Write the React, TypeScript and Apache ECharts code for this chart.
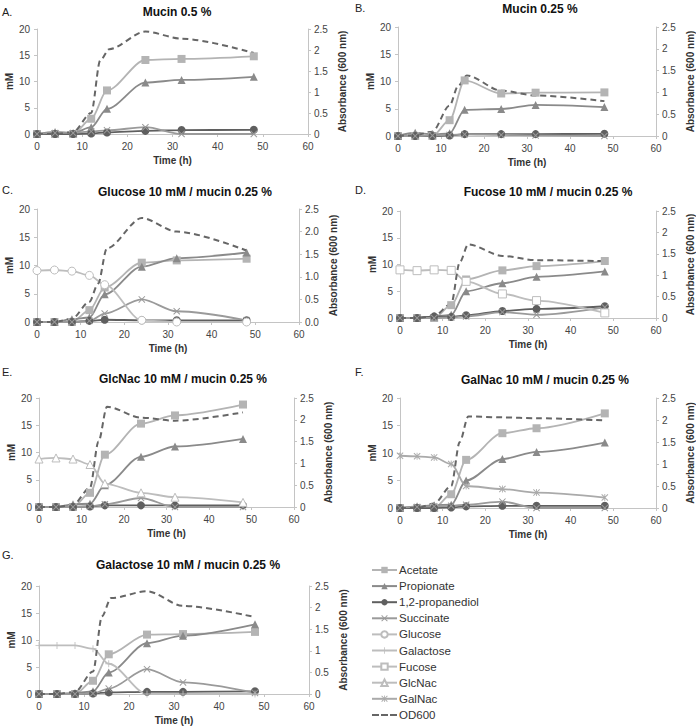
import React, { useEffect, useRef } from "react";
import * as echarts from "echarts";

// ---- data ----
const times = [0, 4, 8, 12, 15.5, 24, 32, 48];
const odTimes = [0, 4, 8, 12, 14, 16, 24, 32, 48];

const panelLetters = ["A.", "B.", "C.", "D.", "E.", "F.", "G."];
const panelTitles = [
  "Mucin 0.5 %",
  "Mucin 0.25 %",
  "Glucose 10 mM / mucin 0.25 %",
  "Fucose 10 mM / mucin 0.25 %",
  "GlcNac 10 mM / mucin 0.25 %",
  "GalNac 10 mM / mucin 0.25 %",
  "Galactose 10 mM / mucin 0.25 %",
];

const acetateA = [0, 0, 0, 2.9, 8.3, 14.1, 14.3, 14.8];
const propionateA = [0, 0.4, 0.2, 1.3, 4.8, 9.8, 10.3, 10.9];
const propanediolA = [0, 0, 0, 0.1, 0.3, 0.6, 0.75, 0.8];
const succinateA = [0, 0.2, 0.2, 0.5, 0.7, 1.3, 0, 0];
const odA = [0, 0, 0.05, 0.5, 1.75, 2.02, 2.44, 2.27, 1.93];

const acetateB = [0, 0, 0, 2.9, 10.2, 7.8, 7.95, 8.0];
const propionateB = [0, 0.6, 0.3, 0.5, 4.8, 4.95, 5.7, 5.3];
const propanediolB = [0, 0, 0, 0.1, 0.35, 0.35, 0.35, 0.4];
const succinateB = [0, 0, 0.1, 0.2, 0.3, 0.2, 0.1, 0];
const odB = [0, 0.02, 0.1, 0.7, 1.15, 1.39, 1.04, 0.93, 0.8];

const acetateC = [0, 0, 0, 2.1, 6.1, 10.5, 10.9, 11.2];
const propionateC = [0, 0, 0.5, 0.8, 4.9, 9.8, 11.3, 12.3];
const propanediolC = [0, 0, 0, 0.2, 0.4, 0.3, 0.3, 0.3];
const succinateC = [0, 0, 0, 0.2, 1.5, 4.0, 1.9, 0.3];
const glucoseC = [9.1, 9.2, 9.0, 8.25, 6.6, 0.3, 0, 0];
const odC = [0, 0, 0.07, 0.45, 0.85, 1.63, 2.3, 2.0, 1.58];

const acetateD = [0, 0, 0, 2.4, 7.2, 8.9, 9.7, 10.65];
const propionateD = [0, 0, 0.3, 0.6, 5.0, 6.5, 7.7, 8.7];
const propanediolD = [0, 0, 0.3, 0.2, 0.5, 1.3, 1.7, 2.2];
const succinateD = [0, 0, 0, 0.1, 0.3, 1.1, 0.6, 2.0];
const fucoseD = [9.0, 8.85, 9.0, 8.9, 6.85, 4.5, 3.25, 0.95];
const odD = [0, 0, 0.05, 0.33, 1.3, 1.72, 1.45, 1.35, 1.33];

const acetateE = [0, 0, 0, 2.6, 9.6, 15.3, 16.8, 18.8];
const propionateE = [0, 0, 0.5, 0.6, 4.0, 9.2, 11.1, 12.5];
const propanediolE = [0, 0, 0, 0.1, 0.3, 0.3, 0.3, 0.3];
const succinateE = [0, 0, 0, 0.1, 0.5, 1.65, 0, 0];
const glcnacE = [8.8, 9.0, 8.8, 7.8, 4.3, 2.6, 1.8, 0.85];
const odE = [0, 0, 0.05, 0.44, 1.5, 2.3, 2.05, 1.98, 2.17];

const acetateF = [0, 0, 0, 2.5, 8.75, 13.6, 14.5, 17.2];
const propionateF = [0, 0.3, 0.5, 0.6, 5.0, 8.9, 10.2, 11.9];
const propanediolF = [0, 0, 0, 0.1, 0.3, 0.4, 0.4, 0.4];
const succinateF = [0, 0.2, 0.3, 0.4, 0.6, 1.15, 0, 0];
const galnacF = [9.5, 9.4, 9.2, 8.0, 4.0, 3.45, 2.8, 1.9];
const odF = [0, 0, 0.1, 0.5, 1.5, 2.08, 2.06, 2.04, 1.99];

const acetateG = [0, 0, 0, 2.45, 7.35, 11.0, 11.1, 11.5];
const propionateG = [0, 0, 0.2, 0.5, 4.0, 9.4, 10.8, 12.9];
const propanediolG = [0, 0, 0, 0.1, 0.3, 0.4, 0.4, 0.5];
const succinateG = [0, 0, 0, 0.1, 1.0, 4.6, 2.15, 0.2];
const galactoseG = [9.0, 9.0, 9.0, 8.4, 5.6, 0, 0, 0];
const odG = [0, 0, 0.05, 0.52, 1.8, 2.22, 2.38, 2.04, 1.78];

const legendNames = [
  "Acetate",
  "Propionate",
  "1,2-propanediol",
  "Succinate",
  "Glucose",
  "Galactose",
  "Fucose",
  "GlcNac",
  "GalNac",
  "OD600",
];

// ---- styles ----
const FONT = "'Liberation Sans', Arial, sans-serif";
const X_PATH = "path://M1,0L5,4L9,0L10,1L6,5L10,9L9,10L5,6L1,10L0,9L4,5L0,1Z";
const PLUS_PATH = "path://M4.4,0H5.6V4.4H10V5.6H5.6V10H4.4V5.6H0V4.4H4.4Z";
const STAR_PATH =
  "path://M1,0L5,4L9,0L10,1L6,5L10,9L9,10L5,6L1,10L0,9L4,5L0,1Z M4.4,0H5.6V10H4.4Z";
const DASH_ICON = "path://M0,0H7V2H0Z M9,0H16V2H9Z M18,0H25V2H18Z";

const styles: Record<string, any> = {
  Acetate: { color: "#b4b4b4", symbol: "rect", size: 8, fill: "#b4b4b4" },
  Propionate: { color: "#8a8a8a", symbol: "triangle", size: 8, fill: "#8a8a8a" },
  "1,2-propanediol": { color: "#5f5f5f", symbol: "circle", size: 8, fill: "#5f5f5f" },
  Succinate: { color: "#9a9a9a", symbol: X_PATH, size: 7, fill: "#9a9a9a" },
  Glucose: { color: "#bdbdbd", symbol: "circle", size: 8, fill: "#ffffff" },
  Galactose: { color: "#bdbdbd", symbol: PLUS_PATH, size: 7, fill: "#bdbdbd" },
  Fucose: { color: "#bdbdbd", symbol: "rect", size: 8, fill: "#ffffff" },
  GlcNac: { color: "#bdbdbd", symbol: "triangle", size: 8, fill: "#ffffff" },
  GalNac: { color: "#aaaaaa", symbol: STAR_PATH, size: 7, fill: "#aaaaaa" },
};

type Panel = {
  grid: { left: number; top: number; width: number; height: number };
  letterPos: [number, number];
  titleX: number;
  titleY: number;
  rightDecimals: boolean;
  series: [string, number[]][];
  od: number[];
};

const panels: Panel[] = [
  {
    grid: { left: 37, top: 29, width: 271, height: 105 },
    letterPos: [2, 6], titleX: 177, titleY: 6, rightDecimals: false,
    series: [["Acetate", acetateA], ["Propionate", propionateA], ["1,2-propanediol", propanediolA], ["Succinate", succinateA]],
    od: odA,
  },
  {
    grid: { left: 398, top: 27, width: 259, height: 109 },
    letterPos: [355, 2], titleX: 540, titleY: 3, rightDecimals: false,
    series: [["Acetate", acetateB], ["Propionate", propionateB], ["1,2-propanediol", propanediolB], ["Succinate", succinateB]],
    od: odB,
  },
  {
    grid: { left: 37, top: 209, width: 262, height: 113 },
    letterPos: [2, 184], titleX: 185, titleY: 186, rightDecimals: true,
    series: [["Acetate", acetateC], ["Propionate", propionateC], ["1,2-propanediol", propanediolC], ["Succinate", succinateC], ["Glucose", glucoseC]],
    od: odC,
  },
  {
    grid: { left: 400, top: 211, width: 259, height: 107 },
    letterPos: [355, 184], titleX: 548, titleY: 186, rightDecimals: false,
    series: [["Acetate", acetateD], ["Propionate", propionateD], ["1,2-propanediol", propanediolD], ["Succinate", succinateD], ["Fucose", fucoseD]],
    od: odD,
  },
  {
    grid: { left: 39, top: 398, width: 255, height: 109 },
    letterPos: [2, 366], titleX: 183, titleY: 373, rightDecimals: false,
    series: [["Acetate", acetateE], ["Propionate", propionateE], ["1,2-propanediol", propanediolE], ["Succinate", succinateE], ["GlcNac", glcnacE]],
    od: odE,
  },
  {
    grid: { left: 400, top: 398, width: 257, height: 110 },
    letterPos: [355, 366], titleX: 545, titleY: 374, rightDecimals: false,
    series: [["Acetate", acetateF], ["Propionate", propionateF], ["1,2-propanediol", propanediolF], ["Succinate", succinateF], ["GalNac", galnacF]],
    od: odF,
  },
  {
    grid: { left: 39, top: 586, width: 270, height: 108 },
    letterPos: [2, 549], titleX: 188, titleY: 559, rightDecimals: false,
    series: [["Acetate", acetateG], ["Propionate", propionateG], ["1,2-propanediol", propanediolG], ["Succinate", succinateG], ["Galactose", galactoseG]],
    od: odG,
  },
];

function buildOption() {
  const grid: any[] = [];
  const xAxis: any[] = [];
  const yAxis: any[] = [];
  const series: any[] = [];
  const graphic: any[] = [];
  const axisLine = { show: true, lineStyle: { color: "#c4c4c4", width: 1 } };
  const axisTick = { show: true, length: 3, lineStyle: { color: "#c4c4c4" } };
  const label = { fontSize: 10, color: "#444", fontFamily: FONT };
  const nameStyle = { fontSize: 10, fontWeight: "bold", color: "#333", fontFamily: FONT };

  panels.forEach((p, i) => {
    grid.push({ ...p.grid, containLabel: false });
    xAxis.push({
      type: "value", gridIndex: i, min: 0, max: 60, interval: 10,
      name: "Time (h)", nameLocation: "middle", nameGap: 21, nameTextStyle: nameStyle,
      axisLine, axisTick, axisLabel: { ...label, margin: 7 }, splitLine: { show: false },
    });
    yAxis.push({
      type: "value", gridIndex: i, min: 0, max: 20, interval: 5, position: "left",
      name: "mM", nameLocation: "middle", nameGap: 22, nameRotate: 90, nameTextStyle: nameStyle,
      axisLine, axisTick, axisLabel: { ...label, margin: 7 }, splitLine: { show: false },
    });
    yAxis.push({
      type: "value", gridIndex: i, min: 0, max: 2.5, interval: 0.5, position: "right",
      name: "Absorbance (600 nm)", nameLocation: "middle", nameGap: 29, nameRotate: 90, nameTextStyle: nameStyle,
      axisLine, axisTick,
      axisLabel: {
        ...label, margin: 6,
        formatter: (v: number) => (p.rightDecimals ? v.toFixed(1) : String(v)),
      },
      splitLine: { show: false },
    });
    p.series.forEach(([name, vals]) => {
      const st = styles[name];
      series.push({
        type: "line", name, xAxisIndex: i, yAxisIndex: 2 * i,
        data: times.map((t, k) => [t, vals[k]]),
        smooth: 0.3, smoothMonotone: "x",
        symbol: st.symbol, symbolSize: st.size,
        lineStyle: { color: st.color, width: 1.8 },
        itemStyle: { color: st.fill, borderColor: st.color, borderWidth: st.fill === "#ffffff" ? 1 : 0 },
        emphasis: { disabled: true },
      });
    });
    series.push({
      type: "line", name: "OD600", xAxisIndex: i, yAxisIndex: 2 * i + 1,
      data: odTimes.map((t, k) => [t, p.od[k]]),
      smooth: 0.3, smoothMonotone: "x", symbol: "none", showSymbol: false,
      lineStyle: { color: "#666666", width: 2, type: [6, 4] },
      itemStyle: { color: "#666666" },
      emphasis: { disabled: true },
    });
    graphic.push({
      type: "text", left: p.letterPos[0], top: p.letterPos[1],
      style: { text: panelLetters[i], fontSize: 11, fill: "#222", fontFamily: FONT },
    });
    graphic.push({
      type: "text", x: p.titleX, y: p.titleY,
      style: {
        text: panelTitles[i], fontSize: 12, fontWeight: "bold", fill: "#111",
        fontFamily: FONT, textAlign: "center", textVerticalAlign: "top",
      },
    });
  });

  return {
    animation: false,
    backgroundColor: "#ffffff",
    grid, xAxis, yAxis, series, graphic,
    legend: {
      data: legendNames.map((n) =>
        n === "OD600"
          ? { name: n, icon: DASH_ICON, itemStyle: { color: "#666666" } }
          : { name: n }
      ),
      orient: "vertical",
      left: 371, top: 564, padding: 0,
      itemWidth: 25, itemHeight: 8, itemGap: 4.1,
      textStyle: { fontSize: 11.5, color: "#333", fontFamily: FONT, padding: [0, 0, 0, -3] },
      selectedMode: false,
    },
  };
}

export default function App() {
  const ref = useRef<HTMLDivElement>(null);
  useEffect(() => {
    if (!ref.current) return;
    const chart = echarts.init(ref.current, null, { renderer: "svg" });
    chart.setOption(buildOption() as any);
    return () => chart.dispose();
  }, []);
  return (
    <div
      ref={ref}
      style={{ position: "fixed", left: 0, top: 0, width: 696, height: 727, background: "#fff" }}
    />
  );
}
